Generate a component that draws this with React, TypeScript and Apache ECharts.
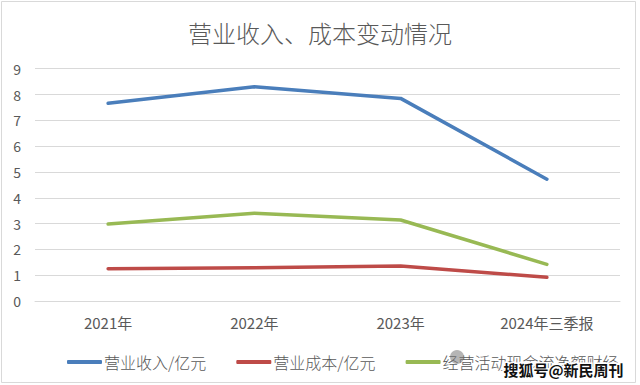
import React, { useEffect, useRef } from "react";
import * as echarts from "echarts";

const categories = ["2021年", "2022年", "2023年", "2024年三季报"];
const revenue = [7.66, 8.3, 7.85, 4.72];
const cost = [1.25, 1.29, 1.36, 0.92];
const cashFlow = [2.98, 3.4, 3.14, 1.42];
const seriesNames = ["营业收入/亿元", "营业成本/亿元", "经营活动现金流净额财经"];
const yTicks = { min: 0, max: 9, interval: 1 };
const titleText = "营业收入、成本变动情况";
const watermark = "搜狐号@新民周刊";

export default function App() {
  const ref = useRef<HTMLDivElement>(null);
  useEffect(() => {
    if (!ref.current) return;
    const chart = echarts.init(ref.current, null, { renderer: "svg" });
    const font = "'Noto Sans CJK SC', 'Noto Sans', sans-serif";
    const colors = ["#4A7EBB", "#BE4B48", "#98B954"];
    const mk = (name: string, data: number[], color: string) => ({
      name,
      type: "line",
      data,
      symbol: "none",
      lineStyle: { color, width: 3.5, cap: "round", join: "round" },
      itemStyle: { color },
    });
    chart.setOption({
      animation: false,
      backgroundColor: "#ffffff",
      textStyle: { fontFamily: font },
      title: {
        text: titleText,
        left: "center",
        top: 15,
        textStyle: { fontSize: 24, fontWeight: 300, color: "#595959", fontFamily: font },
      },
      legend: {
        left: 62,
        top: 349,
        icon: "roundRect",
        itemWidth: 35,
        itemHeight: 4,
        itemGap: 30,
        textStyle: { fontSize: 16, fontWeight: 300, color: "#595959", fontFamily: font, padding: [0, 0, 0, -3] },
        data: seriesNames,
      },
      grid: { left: 35, right: 20, top: 68.7, bottom: 84, containLabel: false },
      xAxis: {
        type: "category",
        data: categories,
        boundaryGap: true,
        axisLine: { show: true, lineStyle: { color: "#d9d9d9", width: 1 } },
        axisTick: { show: false },
        axisLabel: { fontSize: 15, color: "#595959", margin: 14, fontFamily: font },
      },
      yAxis: {
        type: "value",
        min: yTicks.min,
        max: yTicks.max,
        interval: yTicks.interval,
        axisLine: { show: false },
        axisTick: { show: false },
        axisLabel: { fontSize: 14, color: "#595959", margin: 14, fontFamily: font },
        splitLine: { lineStyle: { color: "#d9d9d9", width: 1 } },
      },
      graphic: [
        {
          type: "rect",
          shape: { x: 1.5, y: 1.5, width: 634, height: 381 },
          style: { fill: "none", stroke: "#d9d9d9", lineWidth: 1 },
          z: 100,
        },
        {
          type: "circle",
          shape: { cx: 457, cy: 357, r: 7 },
          style: { fill: "rgba(120,120,120,0.55)" },
          z: 100,
        },
        {
          type: "text",
          left: 502,
          top: 360,
          z: 101,
          style: {
            text: watermark,
            font: `bold 15px ${font}`,
            fill: "#111111",
            stroke: "#ffffff",
            lineWidth: 3,
          },
        },
      ],
      series: [
        mk(seriesNames[0], revenue, colors[0]),
        mk(seriesNames[1], cost, colors[1]),
        mk(seriesNames[2], cashFlow, colors[2]),
      ],
    });
    return () => chart.dispose();
  }, []);
  return (
    <div
      ref={ref}
      style={{ position: "fixed", left: 0, top: 0, width: 640, height: 385 }}
    />
  );
}
